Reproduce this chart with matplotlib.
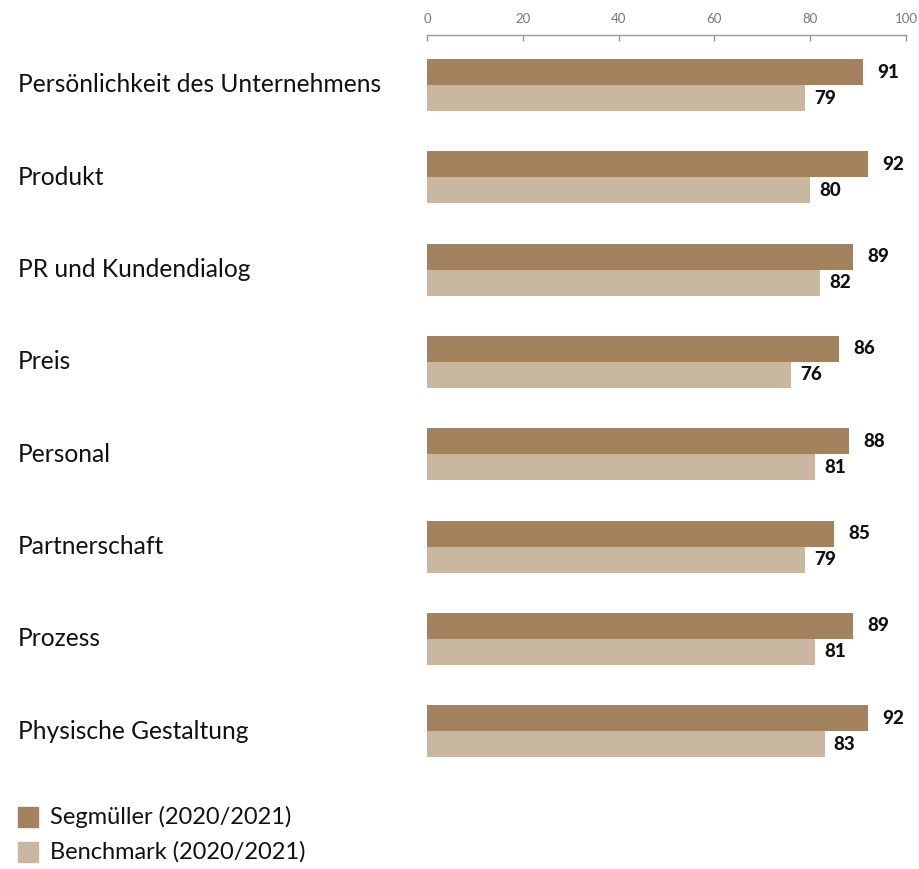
import numpy as np
import matplotlib
matplotlib.use("Agg")
from matplotlib import pyplot as plt
from matplotlib.patches import Rectangle

categories = ["Persönlichkeit des Unternehmens", "Produkt", "PR und Kundendialog",
              "Preis", "Personal", "Partnerschaft", "Prozess", "Physische Gestaltung"]
segmueller = [91, 92, 89, 86, 88, 85, 89, 92]
benchmark = [79, 80, 82, 76, 81, 79, 81, 83]
series_names = ["Segmüller (2020/2021)", "Benchmark (2020/2021)"]
xticks = [0, 20, 40, 60, 80, 100]

dark = "#a2835e"
light = "#c9b89f"

plt.rcParams['font.family'] = ['Lato', 'DejaVu Sans']

W, H = 919, 869
fig = plt.figure(figsize=(W / 100, H / 100), dpi=100)
# axes in pixel units: left 427, right 906, top 35, bottom 780
ax = fig.add_axes([427 / W, 1 - 780 / H, (906 - 427) / W, (780 - 35) / H])

step = 92.3
y0 = 85
top = -(y0 - 35) / step
bottom = (780 - y0) / step
bh = 26 / step
pos = np.arange(len(categories))

ax.barh(pos - bh / 2, segmueller, height=bh, color=dark, edgecolor="none")
ax.barh(pos + bh / 2, benchmark, height=bh, color=light, edgecolor="none")

for i, (a, b) in enumerate(zip(segmueller, benchmark)):
    ax.text(a + 5.3, i - bh / 2, str(a), ha="center", va="center",
            fontsize=13.5, fontweight="black", color="#111111")
    ax.text(b + 4.2, i + bh / 2, str(b), ha="center", va="center",
            fontsize=13.5, fontweight="black", color="#111111")
    fig.text(18 / W, 1 - (y0 + step * i) / H, categories[i], ha="left", va="center",
             fontsize=17.7, color="#111111")

ax.set_xlim(0, 100)
ax.set_ylim(bottom, top)
ax.xaxis.tick_top()
ax.set_xticks(xticks)
ax.tick_params(axis="x", direction="in", length=4, color="#999999", width=1,
               labelsize=9.5, labelcolor="#777777", pad=7)
ax.tick_params(axis="y", left=False, labelleft=False)
for s in ["right", "bottom", "left"]:
    ax.spines[s].set_visible(False)
ax.spines["top"].set_color("#999999")
ax.spines["top"].set_linewidth(1)
ax.patch.set_alpha(0)

# legend
for k, (name, col) in enumerate(zip(series_names, [dark, light])):
    yc = 817 + 35 * k
    fig.patches.append(Rectangle((18 / W, 1 - (yc + 10) / H), 20 / W, 20 / H,
                                 transform=fig.transFigure, color=col))
    fig.text(50 / W, 1 - yc / H, name, ha="left", va="center", fontsize=17, color="#111111")

fig.savefig("out.png", dpi=100)
